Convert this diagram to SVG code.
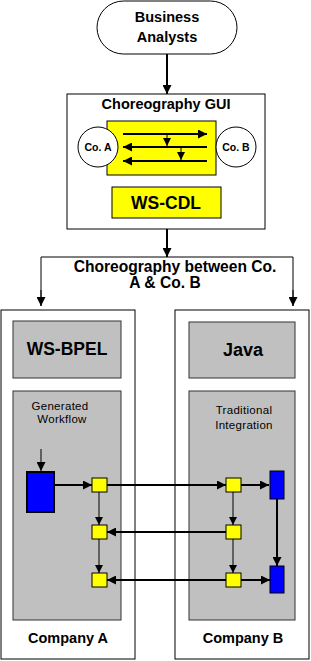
<svg xmlns="http://www.w3.org/2000/svg" width="311" height="661" viewBox="0 0 311 661">
<style>
text{font-family:"Liberation Sans",Arial,sans-serif;fill:#000;text-anchor:middle}
.b{font-weight:bold}
.sm{font-size:11.5px;letter-spacing:0.3px}
.box{fill:#fff;stroke:#000;stroke-width:1}
.gray{fill:#c0c0c0;stroke:#333;stroke-width:1}
.yel{fill:#ffff00;stroke:#000;stroke-width:1}
.blue{fill:#0000ff;stroke:#000;stroke-width:2}
.c2{stroke:#000;stroke-width:2;fill:none}
.c1{stroke:#000;stroke-width:1;fill:none}
</style>
<defs>
<marker id="ah" viewBox="0 0 10 10" refX="10" refY="5" markerWidth="9" markerHeight="9" markerUnits="userSpaceOnUse" orient="auto"><path d="M0,0 L10,5 L0,10 z" fill="#000"/></marker>
<marker id="as" viewBox="0 0 10 10" refX="10" refY="5" markerWidth="8" markerHeight="8" markerUnits="userSpaceOnUse" orient="auto"><path d="M0,0 L10,5 L0,10 z" fill="#000"/></marker>
</defs>

<g id="business-analysts">
<rect x="97" y="1" width="140" height="53" rx="26.5" class="box"/>
<text x="167" y="22" class="b" font-size="14.5">Business</text>
<text x="167" y="42" class="b" font-size="14.5">Analysts</text>
</g>

<g id="choreography-gui">
<rect x="67" y="94" width="198" height="135" class="box"/>
<text x="166" y="109" class="b" font-size="14.5">Choreography GUI</text>
<rect x="107" y="121" width="109" height="54" class="yel"/>
</g>

<g id="co-a">
<circle cx="98" cy="147" r="20" class="box"/>
<text x="98" y="151" class="b" font-size="10.5">Co. A</text>
</g>
<g id="co-b">
<circle cx="236" cy="147" r="20" class="box"/>
<text x="236" y="151" class="b" font-size="10.5">Co. B</text>
</g>

<g id="ws-cdl">
<rect x="112" y="187" width="109" height="31" class="yel"/>
<text x="166" y="209" class="b" font-size="17.5">WS-CDL</text>
</g>

<g id="choreography-label">
<text x="175" y="272" class="b" font-size="15.6">Choreography between Co.</text>
<text x="165" y="288" class="b" font-size="15.6">A &amp; Co. B</text>
</g>

<g id="company-a">
<rect x="1" y="310" width="134" height="349" class="box"/>
<text x="68" y="643" class="b" font-size="14.5">Company A</text>
</g>
<g id="ws-bpel">
<rect x="13" y="321" width="108" height="57" class="gray"/>
<text x="67" y="355" class="b" font-size="17.5">WS-BPEL</text>
</g>
<g id="generated-workflow">
<rect x="13" y="391" width="108" height="229" class="gray"/>
<text x="60" y="410" class="sm">Generated</text>
<text x="62" y="423" class="sm">Workflow</text>
</g>

<g id="company-b">
<rect x="175" y="310" width="134" height="349" class="box"/>
<text x="243" y="643" class="b" font-size="14.5">Company B</text>
</g>
<g id="java">
<rect x="189" y="322" width="106" height="56" class="gray"/>
<text x="243" y="356" class="b" font-size="18">Java</text>
</g>
<g id="traditional-integration">
<rect x="189" y="391" width="106" height="229" class="gray"/>
<text x="244" y="414" class="sm">Traditional</text>
<text x="244" y="429" class="sm">Integration</text>
</g>

<g id="a-blue"><rect x="27" y="472" width="27" height="40" class="blue"/></g>
<g id="a-y1"><rect x="92" y="478" width="15" height="14" class="yel"/></g>
<g id="a-y2"><rect x="92" y="525" width="15" height="14" class="yel"/></g>
<g id="a-y3"><rect x="92" y="573" width="15" height="14" class="yel"/></g>
<g id="b-y1"><rect x="226" y="478" width="15" height="14" class="yel"/></g>
<g id="b-y2"><rect x="226" y="525" width="15" height="14" class="yel"/></g>
<g id="b-y3"><rect x="226" y="573" width="15" height="14" class="yel"/></g>
<g id="b-blue1"><rect x="270" y="471" width="14" height="28" fill="#0000ff" stroke="#000" stroke-width="1"/></g>
<g id="b-blue2"><rect x="270" y="566" width="14" height="27" fill="#0000ff" stroke="#000" stroke-width="1"/></g>

<g id="connectors">
<line x1="167" y1="54" x2="167" y2="94" class="c2" marker-end="url(#ah)"/>
<line x1="167" y1="229" x2="167" y2="257" class="c2" marker-end="url(#ah)"/>
<polyline points="41,306 41,257 293,257 293,306" class="c1"/>
<line x1="41" y1="290" x2="41" y2="306" class="c1" marker-end="url(#ah)"/>
<line x1="293" y1="290" x2="293" y2="306" class="c1" marker-end="url(#ah)"/>

<line x1="123" y1="134" x2="207" y2="134" class="c2" marker-end="url(#ah)"/>
<line x1="207" y1="147" x2="123" y2="147" class="c2" marker-end="url(#ah)"/>
<line x1="207" y1="161" x2="123" y2="161" class="c2" marker-end="url(#ah)"/>
<line x1="167" y1="134" x2="167" y2="146" class="c1" marker-end="url(#as)"/>
<line x1="181" y1="147" x2="181" y2="160" class="c1" marker-end="url(#as)"/>

<line x1="41" y1="449" x2="41" y2="471" class="c1" marker-end="url(#ah)"/>
<line x1="54" y1="485" x2="92" y2="485" class="c2" marker-end="url(#ah)"/>
<line x1="99" y1="492" x2="99" y2="525" class="c1" marker-end="url(#as)"/>
<line x1="99" y1="539" x2="99" y2="573" class="c1" marker-end="url(#as)"/>

<line x1="107" y1="485" x2="226" y2="485" class="c2" marker-end="url(#ah)"/>
<line x1="226" y1="532" x2="107" y2="532" class="c2" marker-end="url(#ah)"/>
<line x1="226" y1="580" x2="107" y2="580" class="c2" marker-end="url(#ah)"/>

<line x1="241" y1="485" x2="269" y2="485" class="c2" marker-end="url(#ah)"/>
<line x1="233" y1="492" x2="233" y2="525" class="c1" marker-end="url(#as)"/>
<line x1="233" y1="539" x2="233" y2="573" class="c1" marker-end="url(#as)"/>
<line x1="277" y1="499" x2="277" y2="566" class="c2" marker-end="url(#ah)"/>
<line x1="241" y1="580" x2="270" y2="580" class="c2" marker-end="url(#ah)"/>
</g>
</svg>
